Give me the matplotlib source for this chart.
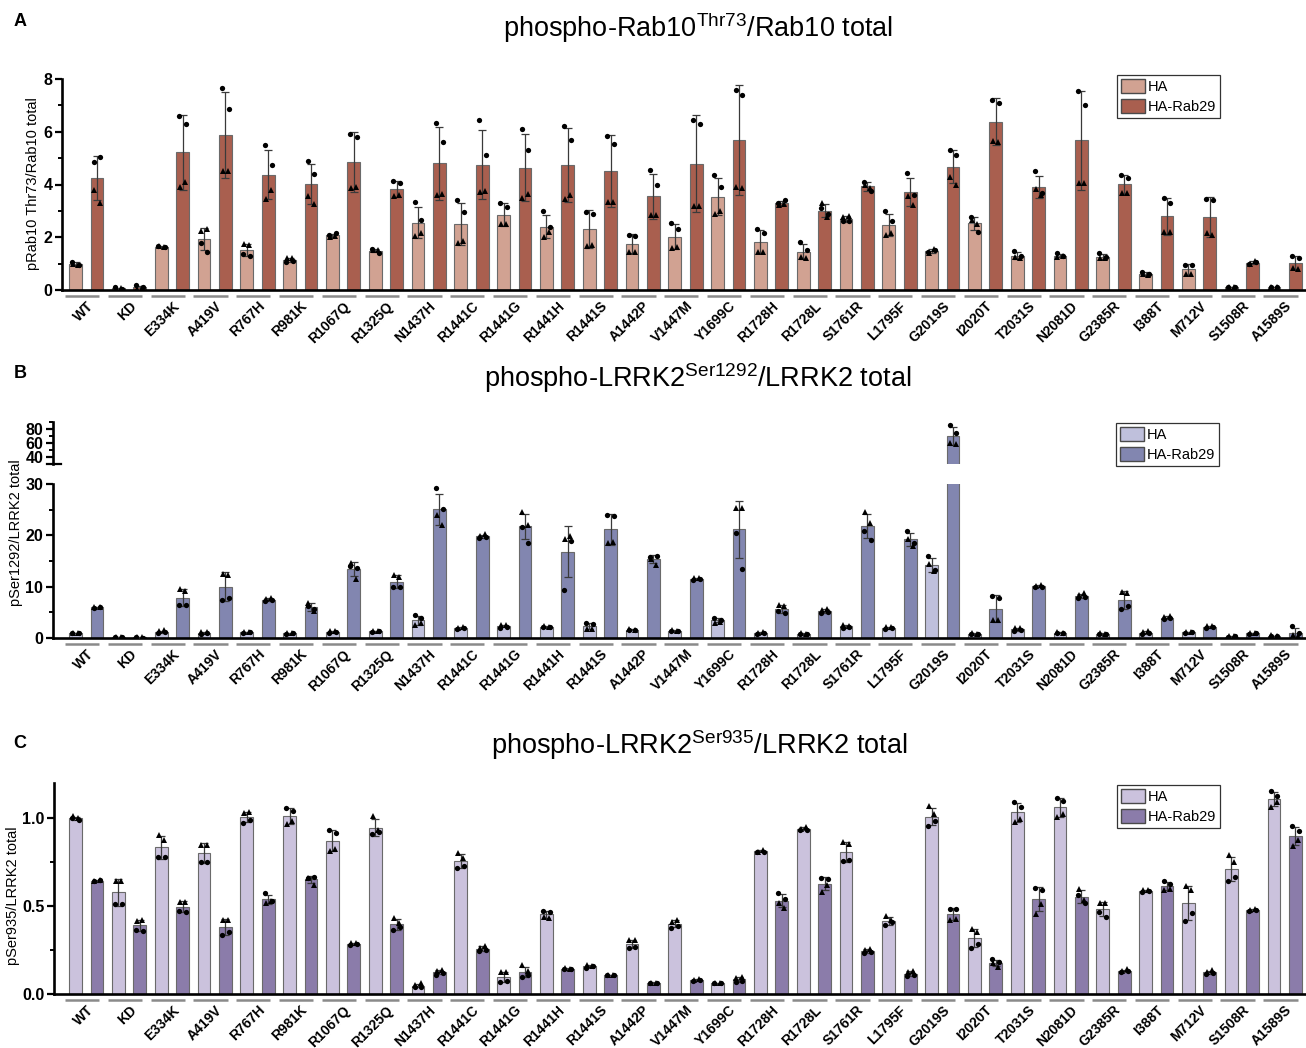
import numpy as np
import matplotlib
matplotlib.use('Agg')
import matplotlib.pyplot as plt
from matplotlib.patches import Patch

plt.rcParams['font.family'] = ['Liberation Sans', 'DejaVu Sans']
plt.rcParams['mathtext.fontset'] = 'custom'
plt.rcParams['mathtext.rm'] = 'Liberation Sans'
plt.rcParams['mathtext.it'] = 'Liberation Sans:italic'
plt.rcParams['mathtext.bf'] = 'Liberation Sans:bold'

# ---------------- data ----------------
categories = ["WT", "KD", "E334K", "A419V", "R767H", "R981K", "R1067Q", "R1325Q",
              "N1437H", "R1441C", "R1441G", "R1441H", "R1441S", "A1442P", "V1447M",
              "Y1699C", "R1728H", "R1728L", "S1761R", "L1795F", "G2019S", "I2020T",
              "T2031S", "N2081D", "G2385R", "I388T", "M712V", "S1508R", "A1589S"]
series_labels = ["HA", "HA-Rab29"]

# each row: [circle1, circle2, triangle1, triangle2]
A_HA = [[1.07, 0.95, 1.0, 0.95], [0.1, 0.05, 0.08, 0.06], [1.65, 1.62, 1.68, 1.63],
        [1.78, 1.43, 2.25, 2.3], [1.35, 1.3, 1.75, 1.7], [1.05, 1.1, 1.2, 1.2],
        [2.1, 2.15, 2.02, 2.03], [1.55, 1.42, 1.5, 1.52], [3.35, 2.65, 2.05, 2.15],
        [3.4, 2.95, 1.8, 1.85], [3.3, 3.15, 2.5, 2.5], [3.0, 2.4, 2.0, 2.2],
        [2.95, 2.9, 1.65, 1.7], [2.1, 2.05, 1.45, 1.45], [2.55, 2.32, 1.6, 1.62],
        [4.35, 3.9, 2.9, 3.0], [2.3, 2.15, 1.45, 1.45], [1.82, 1.5, 1.25, 1.2],
        [2.62, 2.6, 2.75, 2.8], [3.0, 2.6, 2.1, 2.15], [1.45, 1.5, 1.4, 1.55],
        [2.76, 2.19, 2.64, 2.5], [1.47, 1.3, 1.25, 1.2], [1.4, 1.3, 1.25, 1.28],
        [1.4, 1.25, 1.2, 1.22], [0.7, 0.62, 0.6, 0.55], [0.96, 0.95, 0.6, 0.6],
        [0.12, 0.1, 0.1, 0.12], [0.1, 0.12, 0.1, 0.12]]
A_R29 = [[4.85, 5.03, 3.8, 3.3], [0.18, 0.1, 0.05, 0.08], [6.6, 6.3, 3.9, 4.1],
         [7.65, 6.85, 4.5, 4.5], [5.5, 4.75, 3.45, 3.8], [4.9, 4.4, 3.55, 3.25],
         [5.9, 5.8, 3.85, 3.9], [4.15, 4.05, 3.55, 3.6], [6.35, 5.6, 3.6, 3.65],
         [6.45, 5.1, 3.7, 3.75], [6.1, 5.3, 3.5, 3.65], [6.2, 5.7, 3.45, 3.6],
         [5.85, 5.55, 3.35, 3.35], [4.55, 4.0, 2.85, 2.85], [6.45, 6.3, 3.2, 3.2],
         [7.6, 7.4, 3.9, 3.85], [3.3, 3.4, 3.22, 3.25], [3.1, 2.9, 3.3, 2.75],
         [4.1, 3.75, 4.0, 3.85], [4.45, 3.61, 3.56, 3.23], [5.32, 5.11, 4.28, 4.0],
         [7.2, 7.1, 5.65, 5.6], [4.51, 3.69, 3.84, 3.59], [7.55, 7.03, 4.06, 4.06],
         [4.37, 4.26, 3.69, 3.69], [3.5, 3.3, 2.19, 2.19], [3.46, 3.4, 2.15, 2.1],
         [1.0, 1.05, 1.0, 1.1], [1.3, 1.2, 0.85, 0.8]]

B_HA = [[0.9, 1.0, 1.0, 1.05], [0.2, 0.15, 0.2, 0.1], [1.0, 1.1, 1.3, 1.5],
        [0.8, 1.0, 1.2, 1.1], [1.0, 1.1, 1.15, 1.1], [0.8, 0.9, 1.0, 0.9],
        [1.0, 1.2, 1.4, 1.3], [1.2, 1.3, 1.4, 1.3], [4.4, 3.9, 2.6, 2.9],
        [1.7, 2.0, 2.0, 2.2], [2.0, 2.2, 2.5, 2.6], [2.1, 2.2, 2.3, 2.2],
        [2.9, 2.7, 1.8, 1.8], [1.5, 1.6, 1.7, 1.6], [1.3, 1.4, 1.5, 1.3],
        [3.9, 3.6, 3.0, 3.2], [0.8, 0.9, 1.0, 1.1], [0.7, 0.8, 0.9, 0.8],
        [2.0, 2.2, 2.5, 2.3], [1.7, 1.9, 2.1, 2.2], [16.0, 13.3, 14.4, 13.1],
        [0.7, 0.8, 0.9, 0.8], [1.4, 1.6, 1.9, 2.0], [0.9, 1.0, 1.1, 1.0],
        [0.7, 0.8, 0.9, 0.8], [0.7, 1.0, 1.2, 1.3], [1.0, 1.1, 1.2, 1.2],
        [0.1, 0.3, 0.3, 0.3], [0.3, 0.4, 0.5, 0.4]]
B_R29 = [[5.9, 6.0, 6.1, 6.1], [0.1, 0.05, 0.15, 0.1], [6.4, 6.4, 9.5, 9.2],
         [7.35, 7.74, 12.56, 12.2], [7.2, 7.4, 7.6, 7.8], [6.25, 5.6, 6.9, 5.3],
         [14.05, 13.7, 14.7, 11.45], [9.9, 10.0, 12.2, 11.9], [29.2, 25.2, 23.9, 22.0],
         [19.4, 19.6, 19.9, 20.2], [21.7, 18.6, 24.6, 22.0], [9.4, 18.8, 19.2, 19.8],
         [23.9, 23.7, 18.5, 18.7], [15.8, 15.9, 15.3, 14.2], [11.3, 11.4, 11.6, 11.6],
         [20.4, 13.5, 25.4, 25.3], [5.3, 4.8, 6.4, 6.3], [4.8, 5.1, 5.4, 5.6],
         [20.8, 19.1, 24.6, 22.5], [20.9, 18.6, 19.3, 18.0], [86.0, 75.0, 60.0, 59.0],
         [8.2, 7.7, 3.5, 3.5], [9.9, 10.0, 10.2, 10.4], [7.8, 8.0, 8.4, 8.7],
         [5.6, 6.2, 9.0, 8.85], [3.7, 3.9, 4.1, 4.2], [1.9, 2.1, 2.3, 2.4],
         [0.8, 0.9, 1.0, 0.9], [2.4, 0.9, 0.5, 0.4]]

C_HA = [[1.0, 0.99, 1.01, 1.0], [0.51, 0.514, 0.643, 0.643], [0.78, 0.78, 0.905, 0.873],
        [0.75, 0.75, 0.85, 0.85], [0.973, 0.987, 1.03, 1.034], [1.059, 1.043, 0.968, 0.983],
        [0.93, 0.917, 0.813, 0.826], [0.91, 0.92, 1.015, 0.934], [0.04, 0.04, 0.05, 0.06],
        [0.718, 0.73, 0.80, 0.775], [0.07, 0.074, 0.123, 0.123], [0.472, 0.467, 0.439, 0.433],
        [0.15, 0.16, 0.165, 0.16], [0.26, 0.268, 0.306, 0.306], [0.378, 0.386, 0.41, 0.423],
        [0.06, 0.06, 0.06, 0.065], [0.805, 0.81, 0.81, 0.82], [0.93, 0.935, 0.94, 0.95],
        [0.754, 0.76, 0.864, 0.854], [0.39, 0.41, 0.442, 0.42], [0.958, 0.983, 1.068, 1.025],
        [0.259, 0.287, 0.367, 0.354], [1.094, 1.066, 0.977, 0.996], [1.115, 1.096, 1.009, 1.025],
        [0.467, 0.439, 0.518, 0.518], [0.58, 0.585, 0.59, 0.59], [0.414, 0.461, 0.612, 0.59],
        [0.64, 0.665, 0.788, 0.75], [1.157, 1.128, 1.062, 1.09]]
C_R29 = [[0.64, 0.65, 0.64, 0.65], [0.363, 0.36, 0.416, 0.42], [0.47, 0.467, 0.522, 0.522],
         [0.335, 0.353, 0.423, 0.42], [0.575, 0.53, 0.52, 0.53], [0.66, 0.665, 0.66, 0.622],
         [0.28, 0.285, 0.29, 0.29], [0.363, 0.382, 0.435, 0.405], [0.11, 0.12, 0.13, 0.135],
         [0.245, 0.25, 0.26, 0.275], [0.098, 0.108, 0.164, 0.132], [0.14, 0.145, 0.15, 0.14],
         [0.11, 0.11, 0.11, 0.11], [0.06, 0.065, 0.065, 0.065], [0.075, 0.08, 0.08, 0.085],
         [0.07, 0.075, 0.09, 0.095], [0.575, 0.54, 0.52, 0.49], [0.66, 0.652, 0.578, 0.618],
         [0.235, 0.24, 0.25, 0.255], [0.1, 0.11, 0.125, 0.13], [0.486, 0.486, 0.42, 0.429],
         [0.198, 0.183, 0.174, 0.155], [0.603, 0.594, 0.457, 0.51], [0.561, 0.518, 0.6, 0.533],
         [0.125, 0.13, 0.13, 0.14], [0.64, 0.628, 0.59, 0.6], [0.115, 0.12, 0.125, 0.135],
         [0.47, 0.475, 0.48, 0.485], [0.953, 0.926, 0.839, 0.873]]

# ---------------- styling / layout ----------------
COL_A = ['#d1a292', '#a95f4f']
COL_B = ['#bfc0dc', '#8286b0']
COL_C = ['#cbc2dd', '#8b7caa']

W, H = 1306, 1048
fig = plt.figure(figsize=(W / 100, H / 100), dpi=100)

X0 = 86.3   # pixel x of first group centre
GW = 42.8   # pixels per group
RIGHT = 1305


def px_axes(L, T, R, B):
    ax = fig.add_axes([L / W, 1 - B / H, (R - L) / W, (B - T) / H])
    ax.set_xlim((L - X0) / GW, (R - X0) / GW)
    return ax


def style_axis(ax, xaxis=True):
    for s in ['top', 'right']:
        ax.spines[s].set_visible(False)
    ax.spines['left'].set_linewidth(1.9)
    ax.spines['bottom'].set_linewidth(1.9)
    ax.tick_params(axis='y', which='major', length=5, width=1.6, labelsize=11.5, pad=2)
    ax.tick_params(axis='y', which='minor', length=3, width=1.4)
    for lab in ax.get_yticklabels():
        lab.set_fontweight('bold')
    if not xaxis:
        ax.spines['bottom'].set_visible(False)
        ax.set_xticks([])


def draw_series(ax, ha, r29, colors, ymin=None):
    x = np.arange(len(categories))
    for data, off, col in ((ha, -0.25, colors[0]), (r29, 0.25, colors[1])):
        pts = np.asarray(data, float)
        m = pts.mean(axis=1)
        sd = pts.std(axis=1, ddof=1)
        ax.bar(x + off, m, width=0.3, color=col, edgecolor='#6a6a6a', linewidth=0.8, zorder=2)
        show = np.ones(len(m), bool) if ymin is None else (m + sd) > ymin
        ax.errorbar((x + off)[show], m[show], yerr=sd[show], fmt='none', ecolor='#3a3a3a',
                    elinewidth=0.9, capsize=2.8, capthick=0.9, zorder=3)
        p = pts.copy()
        if ymin is not None:
            p[p < ymin] = np.nan
        ax.plot(x + off - 0.08, p[:, 0], 'o', color='black', ms=3.8, mew=0, zorder=4)
        ax.plot(x + off + 0.08, p[:, 1], 'o', color='black', ms=3.8, mew=0, zorder=4)
        ax.plot(x + off - 0.06, p[:, 2], '^', color='black', ms=3.8, mew=0, zorder=4)
        ax.plot(x + off + 0.06, p[:, 3], '^', color='black', ms=3.8, mew=0, zorder=4)


def xlabels(ax, h_px):
    x = np.arange(len(categories))
    ax.set_xticks(x)
    ax.set_xticklabels(categories, rotation=45, ha='right', va='top',
                       rotation_mode='anchor', fontweight='bold', fontsize=10)
    ax.tick_params(axis='x', length=0, pad=6.5)
    tr = ax.get_xaxis_transform()
    yoff = -6.0 / h_px
    for g in x:
        ax.plot([g - 0.1 - 0.4, g - 0.1 + 0.4], [yoff, yoff], color='#8a8a8a', lw=1.8,
                transform=tr, clip_on=False, solid_capstyle='butt')


def legend(colors, L, T):
    handles = [Patch(facecolor=c, edgecolor='#4a4a4a', linewidth=1.0, label=l)
               for c, l in zip(colors, series_labels)]
    leg = fig.legend(handles=handles, loc='upper left', bbox_to_anchor=(L / W, 1 - T / H),
                     frameon=True, fancybox=False, edgecolor='black', fontsize=10.5,
                     handlelength=1.6, handleheight=1.05, handletextpad=0.2,
                     borderpad=0.3, labelspacing=0.35, borderaxespad=0)
    leg.get_frame().set_linewidth(0.9)


def ftext(xp, yp, s, **kw):
    fig.text(xp / W, 1 - yp / H, s, **kw)


# ---------------- Panel A ----------------
axA = px_axes(62, 79, RIGHT, 290)
draw_series(axA, A_HA, A_R29, COL_A)
axA.set_ylim(0, 8)
axA.set_yticks([0, 2, 4, 6, 8])
axA.set_yticks([1, 3, 5, 7], minor=True)
style_axis(axA)
xlabels(axA, 211)
legend(COL_A, 1117, 75)
ftext(33, 184, 'pRab10 Thr73/Rab10 total', rotation=90, ha='center', va='center', fontsize=10.5)
ftext(698, 28, r'phospho-Rab10$^{\mathrm{Thr73}}$/Rab10 total', ha='center', va='center', fontsize=19.5)
ftext(20, 22, 'A', ha='center', va='center', fontsize=13, fontweight='bold')

# ---------------- Panel B (broken axis) ----------------
axB = px_axes(53, 484, RIGHT, 638)
draw_series(axB, B_HA, B_R29, COL_B)
axB.set_ylim(0, 30)
axB.set_yticks([0, 10, 20, 30])
axB.set_yticks([5, 15, 25], minor=True)
style_axis(axB)
xlabels(axB, 154)

axBu = px_axes(53, 422, RIGHT, 464)
draw_series(axBu, B_HA, B_R29, COL_B, ymin=30)
axBu.set_ylim(30, 90)
axBu.set_yticks([40, 60, 80])
axBu.set_yticks([50, 70, 90], minor=True)
style_axis(axBu, xaxis=False)
axBu.patch.set_alpha(0)
axBu.plot([-6 / (RIGHT - 53), 8 / (RIGHT - 53)], [0, 0], color='black', lw=1.6,
          transform=axBu.transAxes, clip_on=False)
legend(COL_B, 1116, 423)
ftext(16, 533, 'pSer1292/LRRK2 total', rotation=90, ha='center', va='center', fontsize=10.5)
ftext(698, 378, r'phospho-LRRK2$^{\mathrm{Ser1292}}$/LRRK2 total', ha='center', va='center', fontsize=19.5)
ftext(20, 373, 'B', ha='center', va='center', fontsize=13, fontweight='bold')

# ---------------- Panel C ----------------
axC = px_axes(54, 783, RIGHT, 994)
draw_series(axC, C_HA, C_R29, COL_C)
axC.set_ylim(0, 1.2)
axC.set_yticks([0.0, 0.5, 1.0])
axC.set_yticklabels(['0.0', '0.5', '1.0'])
axC.set_yticks([0.25, 0.75], minor=True)
style_axis(axC)
xlabels(axC, 211)
legend(COL_C, 1117, 785)
ftext(13, 896, 'pSer935/LRRK2 total', rotation=90, ha='center', va='center', fontsize=10.5)
ftext(699, 745, r'phospho-LRRK2$^{\mathrm{Ser935}}$/LRRK2 total', ha='center', va='center', fontsize=19.5)
ftext(20, 743, 'C', ha='center', va='center', fontsize=13, fontweight='bold')

fig.savefig('out.png', dpi=100)
